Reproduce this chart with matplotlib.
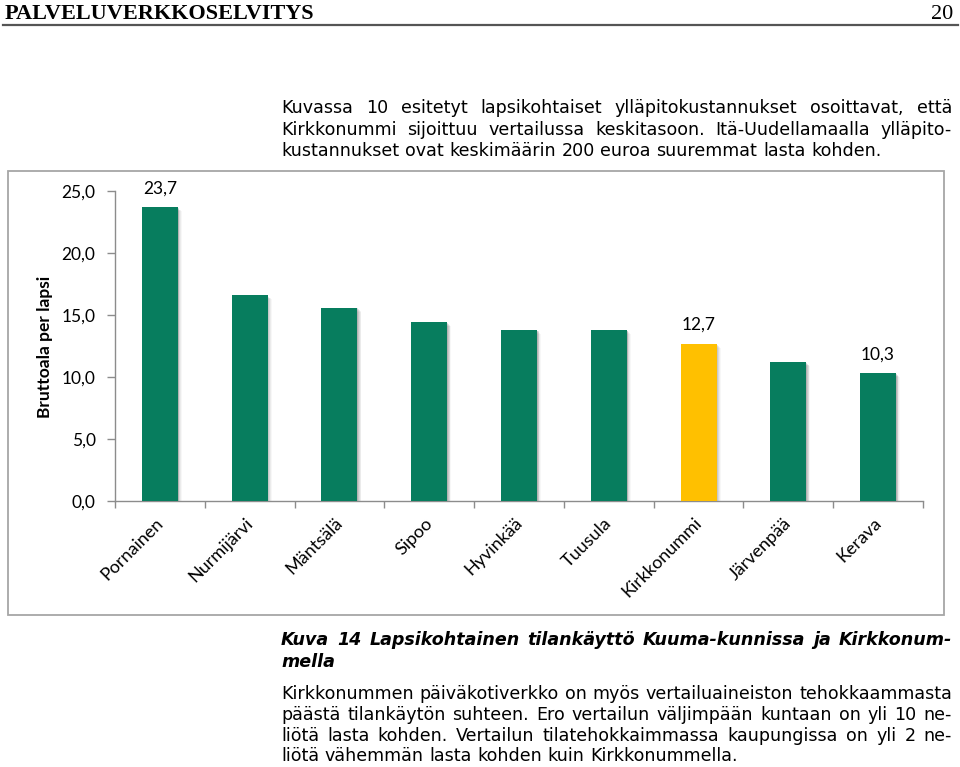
import matplotlib
matplotlib.use("Agg")
import matplotlib.pyplot as plt
from matplotlib.patches import Rectangle
from matplotlib.lines import Line2D
from matplotlib.transforms import ScaledTranslation
from matplotlib.ticker import FixedLocator

# ---------------- data ----------------
categories = ["Pornainen", "Nurmijärvi", "Mäntsälä", "Sipoo", "Hyvinkää",
              "Tuusula", "Kirkkonummi", "Järvenpää", "Kerava"]
values = [23.7, 16.6, 15.6, 14.4, 13.8, 13.8, 12.7, 11.2, 10.3]
highlight = "Kirkkonummi"
labelled = ["Pornainen", "Kirkkonummi", "Kerava"]
yticks = [0, 5, 10, 15, 20, 25]
ylabel = "Bruttoala per lapsi"

header_left = "PALVELUVERKKOSELVITYS"
header_right = "20"
para1 = ["Kuvassa 10 esitetyt lapsikohtaiset ylläpitokustannukset osoittavat, että",
         "Kirkkonummi sijoittuu vertailussa keskitasoon. Itä-Uudellamaalla ylläpito-",
         "kustannukset ovat keskimäärin 200 euroa suuremmat lasta kohden."]
caption = ["Kuva 14 Lapsikohtainen tilankäyttö Kuuma-kunnissa ja Kirkkonum-",
           "mella"]
para2 = ["Kirkkonummen päiväkotiverkko on myös vertailuaineiston tehokkaammasta",
         "päästä tilankäytön suhteen. Ero vertailun väljimpään kuntaan on yli 10 ne-",
         "liötä lasta kohden.  Vertailun tilatehokkaimmassa kaupungissa on yli 2 ne-",
         "liötä vähemmän lasta kohden kuin Kirkkonummella."]

GREEN = "#077D5E"
YELLOW = "#FFC000"
GRAY = "#8C8C8C"
CHART_FONT = "Lato"

W, H = 960, 767
fig = plt.figure(figsize=(W / 100, H / 100), dpi=100)
fig.patch.set_facecolor("white")


def fx(px):
    return px / W


def fy(py):
    return 1 - py / H


renderer = fig.canvas.get_renderer()


def text_width(s, **kw):
    t = fig.text(0, 0, s, **kw)
    w = t.get_window_extent(renderer).width
    t.remove()
    return w


def draw_lines(lines, ys, x0, x1, justify, **kw):
    space = text_width("a a", **kw) - text_width("aa", **kw)
    for line, y, j in zip(lines, ys, justify):
        words = line.split()
        widths = [text_width(w, **kw) for w in words]
        if j and len(words) > 1:
            gap = (x1 - x0 - sum(widths)) / (len(words) - 1)
        else:
            gap = space
        x = x0
        for w, wd in zip(words, widths):
            fig.text(fx(x), fy(y), w, ha="left", va="baseline", **kw)
            x += wd + gap


# ---------------- page header ----------------
fig.text(fx(5), fy(19), header_left, family="Liberation Serif", weight="bold",
         fontsize=16, ha="left", va="baseline", color="black")
fig.text(fx(953), fy(19), header_right, family="Liberation Serif",
         fontsize=16, ha="right", va="baseline", color="black")
fig.add_artist(Line2D([fx(3), fx(958)], [fy(25), fy(25)], color="#555555", lw=1.6,
                      transform=fig.transFigure))

# ---------------- body text ----------------
X0, X1 = 281, 952
body_kw = dict(family="DejaVu Sans", color="black")
s1 = 10 * (879 - X0) / text_width(para1[-1], fontsize=10, **body_kw)
s2 = 10 * (735 - X0) / text_width(para2[-1], fontsize=10, **body_kw)
body_size = (s1 + s2) / 2
body_kw["fontsize"] = body_size
draw_lines(para1, [113, 135, 156], X0, X1, [True, True, False], **body_kw)

cap_kw = dict(family="DejaVu Sans", color="black", weight="bold", style="italic",
              fontsize=body_size)
draw_lines(caption, [645, 667], X0, X1, [True, False], **cap_kw)

draw_lines(para2, [699, 720, 741, 761], X0, X1, [True, True, True, False], **body_kw)

# ---------------- chart frame ----------------
fig.add_artist(Rectangle((fx(8), fy(615)), fx(944) - fx(8), fy(171) - fy(615),
                         transform=fig.transFigure, fill=False,
                         edgecolor="#A6A6A6", lw=1.3))

ax_l, ax_r, ax_t, ax_b = 115, 923, 191, 501
ax = fig.add_axes([fx(ax_l), fy(ax_b), fx(ax_r) - fx(ax_l), fy(ax_t) - fy(ax_b)])
ax.set_facecolor("none")

xs = list(range(len(categories)))
colors = [YELLOW if c == highlight else GREEN for c in categories]

# soft shadow
for k, a in [(1, 0.16), (2, 0.12), (3, 0.09), (4, 0.06), (5, 0.04)]:
    sh = ax.bar(xs, values, width=0.4, color="#404040", alpha=a, zorder=1)
    off = ScaledTranslation(k * 0.8 / 100, -k * 0.8 / 100, fig.dpi_scale_trans)
    for p in sh:
        p.set_transform(ax.transData + off)
        p.set_clip_on(True)

bars = ax.bar(xs, values, width=0.4, color=colors, zorder=3)

for b, c, v in zip(bars, categories, values):
    if c in labelled:
        ax.annotate(f"{v:.1f}".replace(".", ","),
                    (b.get_x() + b.get_width() / 2, v),
                    xytext=(0, 7.5), textcoords="offset points",
                    ha="center", va="bottom", fontsize=12.5,
                    family=CHART_FONT, color="black", annotation_clip=False)

ax.set_xlim(-0.5, len(categories) - 0.5)
ax.set_ylim(0, 25)
ax.set_yticks(yticks)
ax.set_yticklabels([f"{t:.1f}".replace(".", ",") for t in yticks],
                   family=CHART_FONT, fontsize=12.5)
ax.set_xticks(xs)
ax.set_xticklabels(categories, rotation=45, ha="right", rotation_mode="anchor",
                   family=CHART_FONT, fontsize=13)
ax.xaxis.set_minor_locator(FixedLocator([i - 0.5 for i in range(len(categories) + 1)]))
ax.tick_params(axis="x", which="major", length=0, pad=10)
ax.tick_params(axis="x", which="minor", length=5, width=1, color=GRAY, direction="out")
ax.tick_params(axis="y", length=6, width=1, color=GRAY, pad=8)
off = ScaledTranslation(-5 / 100, 0, fig.dpi_scale_trans)
for lab in ax.get_xticklabels():
    lab.set_transform(lab.get_transform() + off)

for s in ["top", "right"]:
    ax.spines[s].set_visible(False)
for s in ["left", "bottom"]:
    ax.spines[s].set_color(GRAY)
    ax.spines[s].set_linewidth(1)

fig.text(fx(45), fy(347), ylabel, rotation=90, ha="center", va="center",
         family=CHART_FONT, weight="bold", fontsize=12.5, color="black")

fig.savefig("out.png", dpi=100)
